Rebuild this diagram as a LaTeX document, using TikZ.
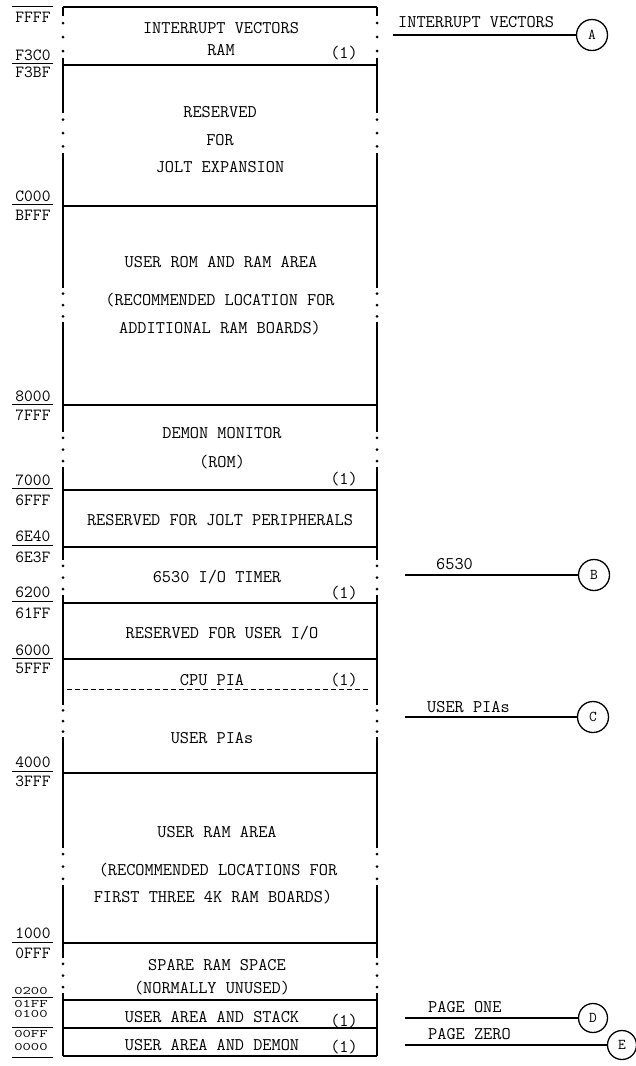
\documentclass[tikz,border=0pt]{standalone}
\usepackage{fontspec}
\usepackage{tikz}
\usetikzlibrary{positioning}
\tikzset{
    maptext/.style={
        font=\fontsize{17.8}{20}\selectfont\ttfamily,
        inner sep=0pt,
        anchor=center
    },
    addrtext/.style={
        font=\fontsize{17}{19}\selectfont\ttfamily,
        inner sep=0pt,
        anchor=center
    },
    smalladdr/.style={
        font=\fontsize{11.5}{12}\selectfont\ttfamily,
        inner sep=0pt,
        anchor=center
    },
    notetext/.style={
        font=\fontsize{17.8}{20}\selectfont\ttfamily,
        inner sep=0pt,
        anchor=west
    },
    tagcircle/.style={
        draw,
        circle,
        line width=1.3pt,
        minimum size=31pt,
        inner sep=0pt,
        font=\fontsize{15}{16}\selectfont\ttfamily
    },
    wall/.style={
        line width=1.5pt
    },
    tick/.style={
        line width=1pt
    },
    leader/.style={
        line width=1.3pt
    }
}

\begin{document}
\begin{tikzpicture}[x=1pt,y=-1pt]
        \useasboundingbox (0,0) rectangle (635,1066);

        \foreach \y in {7,65,206,405,490,547,603,659,773,943,1000,1028,1056}
            \draw[wall] (63,\y) -- (377,\y);

        \foreach \ya/\yb/\ga/\gb in {7/65/16/58, 65/206/113/153, 206/405/288/322,
                405/490/432/467, 547/603/560/595, 659/773/705/737,
                773/943/848/885, 943/1000/958/993}
            \foreach \x in {63,377} {
                \draw[wall] (\x,\ya) -- (\x,\ga) (\x,\gb) -- (\x,\yb);
                \foreach \k in {0,1,2}
                    \fill (\x,{\ga+(\gb-\ga)*(\k+0.5)/3}) circle (1.5);
            };

        \foreach \ya/\yb in {490/547, 603/659, 1000/1028, 1028/1056}
            \foreach \x in {63,377}
                \draw[wall] (\x,\ya) -- (\x,\yb);

        \draw[tick, dashed, dash pattern=on 5pt off 3pt] (67,689) -- (368,689);

        \node[maptext] (ivec) at (221,28) {INTERRUPT VECTORS};
        \node[maptext] (ram) at (221,50) {RAM};
        \node[maptext] (n1) at (344,53) {(1)};
        \node[maptext] (res) at (220,112) {RESERVED};
        \node[maptext] (resfor) at (220,140) {FOR};
        \node[maptext] (jexp) at (220,167) {JOLT EXPANSION};
        \node[maptext] (urom) at (221,262) {USER ROM AND RAM AREA};
        \node[maptext] (urom2) at (220,300) {(RECOMMENDED LOCATION FOR};
        \node[maptext] (urom3) at (220,328) {ADDITIONAL RAM BOARDS)};
        \node[maptext] (demon) at (222,433) {DEMON MONITOR};
        \node[maptext] (rom) at (222,462) {(ROM)};
        \node[maptext] (n2) at (344,479) {(1)};
        \node[maptext] (jper) at (220,520) {RESERVED FOR JOLT PERIPHERALS};
        \node[maptext] (timer) at (217,577) {6530 I/O TIMER};
        \node[maptext] (n3) at (344,593) {(1)};
        \node[maptext] (uio) at (222,633) {RESERVED FOR USER I/O};
        \node[maptext] (cpupia) at (212,680) {CPU PIA};
        \node[maptext] (n4) at (344,680) {(1)};
        \node[maptext] (upias) at (212,738) {USER PIAs};
        \node[maptext] (uram) at (217,832) {USER RAM AREA};
        \node[maptext] (uram2) at (218,870) {(RECOMMENDED LOCATIONS FOR};
        \node[maptext] (uram3) at (213,897) {FIRST THREE 4K RAM BOARDS)};
        \node[maptext] (spare) at (217,965) {SPARE RAM SPACE};
        \node[maptext] (spare2) at (212,988) {(NORMALLY UNUSED)};
        \node[maptext] (stack) at (212,1017) {USER AREA AND STACK};
        \node[maptext] (n5) at (344,1021) {(1)};
        \node[maptext] (zpage) at (212,1045) {USER AREA AND DEMON};
        \node[maptext] (n6) at (344,1047) {(1)};

        \foreach \t/\y in {FFFF/17, F3C0/55, F3BF/72, C000/196, BFFF/215,
                8000/396, 7FFF/415, 7000/480, 6FFF/500, 6E40/536, 6E3F/557,
                6200/592, 61FF/613, 6000/650, 5FFF/668, 4000/762, 3FFF/781,
                1000/933, 0FFF/953}
            \node[addrtext] (a\t) at (33,\y) {\t};
        \foreach \t/\y in {0200/991, 01FF/1004, 0100/1014, 00FF/1034, 0000/1047}
            \node[smalladdr] (a\t) at (31,\y) {\scalebox{1.4}[1]{\t}};

        \foreach \y in {6, 63, 204, 404, 488, 545, 601, 658, 771, 942, 997.5, 1027.5, 1057}
            \draw[tick] (12,\y) -- (53,\y);

        \node[tagcircle] (tagA) at (592,35) {A};
        \node[tagcircle] (tagB) at (594,575) {B};
        \node[tagcircle] (tagC) at (593,717) {C};
        \node[tagcircle, minimum size=29pt] (tagD) at (593,1018) {D};
        \node[tagcircle, minimum size=29pt] (tagE) at (622,1045) {E};

        \coordinate (fA) at (393,35);
        \coordinate (fB) at (405,575);
        \coordinate (fC) at (405,717);
        \coordinate (fD) at (405,1018);
        \coordinate (fE) at (405,1045);

        \draw[leader] (fA) -- (tagA.west);
        \draw[leader] (fB) -- (tagB.west);
        \draw[leader] (fC) -- (tagC.west);
        \draw[leader] (fD) -- (tagD.west);
        \draw[leader] (fE) -- (tagE.west);

        \node[notetext] (lblA) at (398,22) {INTERRUPT VECTORS};
        \node[notetext] (lblB) at (436,564) {6530};
        \node[notetext] (lblC) at (427,707) {USER PIAs};
        \node[notetext] (lblD) at (428,1007) {PAGE ONE};
        \node[notetext] (lblE) at (428,1034) {PAGE ZERO};
    \end{tikzpicture}
\end{document}
